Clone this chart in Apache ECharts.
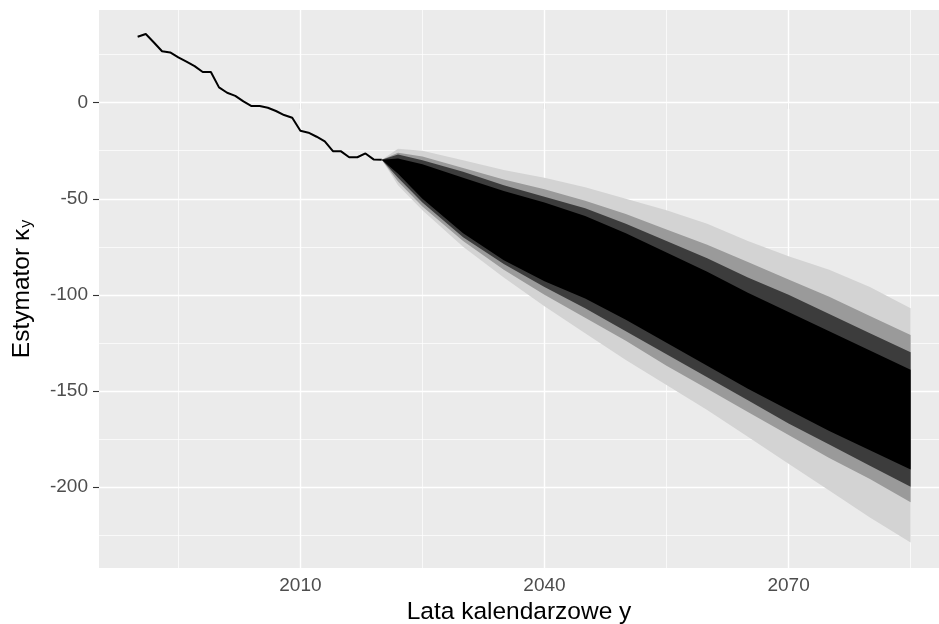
<!DOCTYPE html>
<html>
<head>
<meta charset="utf-8">
<script src="https://cdn.jsdelivr.net/npm/echarts@6/dist/echarts.min.js"></script>
<style>
  html, body { margin: 0; padding: 0; background: #ffffff; }
  #chart { width: 939px; height: 624px; }
</style>
</head>
<body>
<div id="chart"></div>
<script>
// Observed kappa_y estimates, 1990-2020
const histYears = [1990,1991,1992,1993,1994,1995,1996,1997,1998,1999,
                   2000,2001,2002,2003,2004,2005,2006,2007,2008,2009,
                   2010,2011,2012,2013,2014,2015,2016,2017,2018,2019,2020];
const histKappa = [34.4,35.8,31.4,26.8,26.2,23.6,21.4,19.1,16.0,16.0,
                   8.0,5.2,3.6,0.7,-1.7,-1.7,-2.6,-4.3,-6.4,-7.8,
                   -14.6,-15.6,-17.7,-20.1,-25.2,-25.3,-28.4,-28.4,-26.4,-29.5,-29.7];

// Simulated forecast paths 2020-2085, summarised by nested envelopes
const fanYears       = [2020, 2022, 2025, 2030, 2035, 2040, 2045, 2050, 2055, 2060, 2065, 2070, 2075, 2080, 2085];
const fanMax         = [-29.7, -24, -25, -30, -35, -39, -44, -50, -56, -63, -72, -80, -87, -96, -107];
const fanUpper       = [-29.7, -26, -28, -34, -40, -45, -51, -58, -66, -74, -83, -92, -101, -111, -121];
const fanInnerTop    = [-29.7, -27, -30, -36, -43, -49, -55, -63, -72, -81, -91, -100, -110, -120, -130];
const fanCoreTop     = [-29.7, -29, -32, -39, -46, -52, -59, -68, -78, -88, -99, -109, -119, -129, -139];
const fanCoreBottom  = [-29.7, -37, -50, -68, -82, -93, -102, -113, -125, -137, -149, -160, -171, -181, -191];
const fanInnerBottom = [-29.7, -39, -52, -70, -84, -96, -107, -119, -131, -143, -155, -167, -178, -189, -200];
const fanLower       = [-29.7, -41, -54, -72, -87, -100, -112, -124, -137, -149, -161, -173, -185, -196, -208];
const fanMin         = [-29.7, -43, -56, -75, -91, -106, -120, -134, -147, -160, -174, -188, -202, -216, -229];

// Axis ticks and grid positions
const xTicks = [2010, 2040, 2070];
const xMinor = [1995, 2025, 2055, 2085];
const yTicks = [-200, -150, -100, -50, 0];
const yMinor = [25, -25, -75, -125, -175, -225];

const FONT = '"Liberation Sans", Arial, Helvetica, sans-serif';

function pairs(xs, ys) { return xs.map((x, i) => [x, ys[i]]); }

// A filled band between two envelopes, drawn as one polygon
function band(lower, upper, color, z) {
  return {
    type: 'custom', z: z, silent: true,
    data: fanYears.map((y, i) => [y, lower[i], upper[i]]),
    encode: { x: 0, y: [1, 2] },
    renderItem: function (params, api) {
      if (params.dataIndexInside !== 0) return null;
      const n = params.dataInsideLength;
      const top = [], bottom = [];
      for (let j = 0; j < n; j++) {
        top.push(api.coord([api.value(0, j), api.value(2, j)]));
        bottom.push(api.coord([api.value(0, j), api.value(1, j)]));
      }
      return {
        type: 'polygon',
        shape: { points: top.concat(bottom.reverse()) },
        style: { fill: color }
      };
    }
  };
}

const majorLine = { color: '#ffffff', width: 1.4, type: 'solid' };
const minorLine = { color: '#ffffff', width: 0.7, type: 'solid' };

const gridLines = [].concat(
  xMinor.map(v => ({ xAxis: v, lineStyle: minorLine })),
  yMinor.map(v => ({ yAxis: v, lineStyle: minorLine })),
  xTicks.map(v => ({ xAxis: v, lineStyle: majorLine })),
  yTicks.map(v => ({ yAxis: v, lineStyle: majorLine }))
);

const chart = echarts.init(document.getElementById('chart'), null, { renderer: 'canvas' });

chart.setOption({
  animation: false,
  backgroundColor: '#ffffff',
  grid: {
    left: 99, right: 0, top: 10, bottom: 56,
    containLabel: false, outerBoundsMode: 'none',
    show: true, backgroundColor: '#EBEBEB', borderWidth: 0
  },
  xAxis: {
    type: 'value', min: 1985.25, max: 2088.49,
    axisLine: { show: false },
    splitLine: { show: false },
    axisTick: { show: true, length: 6, lineStyle: { color: '#333333', width: 1.1 }, customValues: xTicks },
    axisLabel: {
      color: '#4D4D4D', fontSize: 19, fontFamily: FONT, margin: 8, customValues: xTicks,
      formatter: v => String(v)
    },
    name: 'Lata kalendarzowe y', nameLocation: 'middle', nameGap: 31,
    nameTextStyle: { color: '#000000', fontSize: 24.5, fontFamily: FONT }
  },
  yAxis: {
    type: 'value', min: -242.3, max: 48.3,
    axisLine: { show: false },
    splitLine: { show: false },
    axisTick: { show: true, length: 6, lineStyle: { color: '#333333', width: 1.1 }, customValues: yTicks },
    axisLabel: {
      color: '#4D4D4D', fontSize: 19, fontFamily: FONT, margin: 11, customValues: yTicks,
      formatter: v => String(v)
    },
    name: '{m|Estymator κ}{s|y}', nameLocation: 'middle', nameGap: 64, nameRotate: 90,
    nameTextStyle: {
      color: '#000000', fontFamily: FONT,
      rich: {
        m: { fontSize: 24.5, fontFamily: FONT, color: '#000000' },
        s: { fontSize: 16, fontFamily: FONT, color: '#000000', padding: [10, 0, 0, 1] }
      }
    }
  },
  series: [].concat(
    [{
      type: 'line', z: 1, silent: true, symbol: 'none',
      lineStyle: { opacity: 0 },
      data: pairs(histYears, histKappa),
      markLine: {
        z: 1, silent: true, symbol: 'none', animation: false,
        label: { show: false },
        data: gridLines
      }
    }],
    band(fanMin, fanMax, '#D3D3D3', 2),
    band(fanLower, fanUpper, '#9A9A9A', 3),
    band(fanInnerBottom, fanInnerTop, '#3C3C3C', 4),
    band(fanCoreBottom, fanCoreTop, '#000000', 5),
    [{
      type: 'line', z: 6, silent: true, symbol: 'none',
      lineStyle: { color: '#000000', width: 2 },
      data: pairs(histYears, histKappa)
    }]
  )
});
</script>
</body>
</html>
